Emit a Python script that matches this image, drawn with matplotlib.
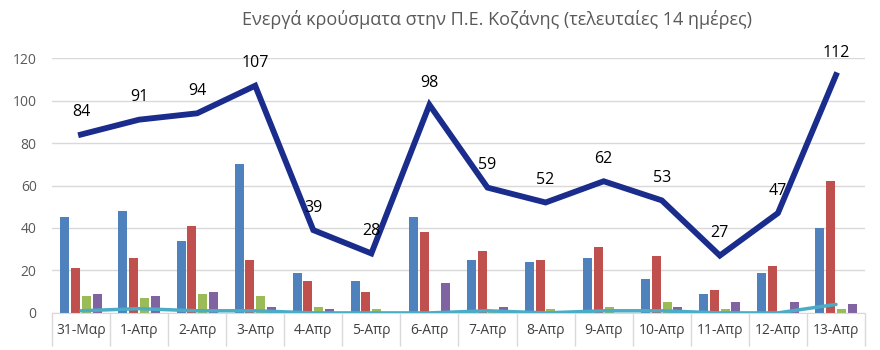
import matplotlib
matplotlib.use("Agg")
import matplotlib.pyplot as plt
import numpy as np

plt.rcParams['font.family'] = ['Open Sans', 'DejaVu Sans']

categories = ["31-Μαρ", "1-Απρ", "2-Απρ", "3-Απρ", "4-Απρ", "5-Απρ", "6-Απρ",
              "7-Απρ", "8-Απρ", "9-Απρ", "10-Απρ", "11-Απρ", "12-Απρ", "13-Απρ"]
blue_vals = [45, 48, 34, 70, 19, 15, 45, 25, 24, 26, 16, 9, 19, 40]
red_vals = [21, 26, 41, 25, 15, 10, 38, 29, 25, 31, 27, 11, 22, 62]
green_vals = [8, 7, 9, 8, 3, 2, 0, 1, 2, 3, 5, 2, 0, 2]
purple_vals = [9, 8, 10, 3, 2, 0, 14, 3, 0, 0, 3, 5, 5, 4]
cyan_vals = [1, 2, 1, 1, 0, 0, 0, 1, 0, 1, 1, 0, 0, 4]
active_vals = [84, 91, 94, 107, 39, 28, 98, 59, 52, 62, 53, 27, 47, 112]
title = "Ενεργά κρούσματα στην Π.Ε. Κοζάνης (τελευταίες 14 ημέρες)"

fig = plt.figure(figsize=(8.8, 3.5), dpi=100)
ax = fig.add_axes([0.059, 0.106, 0.924, 0.728])

x = np.arange(len(categories))
step = 0.185
width = 0.155
bar_series = [(blue_vals, "#4F81BD"), (red_vals, "#C0504D"),
              (green_vals, "#9BBB59"), (purple_vals, "#8064A2")]
for i, (vals, col) in enumerate(bar_series):
    ax.bar(x + (i - 1.5) * step, vals, width=width, color=col, zorder=2)

ax.plot(x, cyan_vals, color="#4BACC6", lw=2.5, zorder=3, solid_capstyle='round')
ax.plot(x, active_vals, color="#1A2C8C", lw=4.2, zorder=4, solid_joinstyle='miter')

for xi, v in zip(x, active_vals):
    ax.annotate(str(v), (xi, v), xytext=(0, 16), textcoords='offset points',
                ha='center', va='center', fontsize=11.5, color='black', zorder=5,
                annotation_clip=False)

ax.set_xlim(-0.5, len(categories) - 0.5)
ax.set_ylim(0, 120)
ax.set_yticks(range(0, 121, 20))
ax.grid(axis='y', color='#D9D9D9', lw=1, zorder=0)
ax.set_axisbelow(True)
for s in ['top', 'right', 'left']:
    ax.spines[s].set_visible(False)
ax.spines['bottom'].set_color('#D9D9D9')

ax.set_xticks(x)
ax.set_xticklabels(categories, fontsize=10, color='#404040')
ax.tick_params(axis='x', which='major', length=0, pad=7)
ax.set_xticks(np.arange(-0.5, len(categories), 1), minor=True)
ax.tick_params(axis='x', which='minor', length=24, color='#D9D9D9', width=1)
ax.tick_params(axis='y', length=0, labelsize=10, labelcolor='#595959', pad=11)

fig.text(0.565, 0.945, title, ha='center', va='center', fontsize=13, color='#595959')

fig.savefig("out.png", dpi=100)
